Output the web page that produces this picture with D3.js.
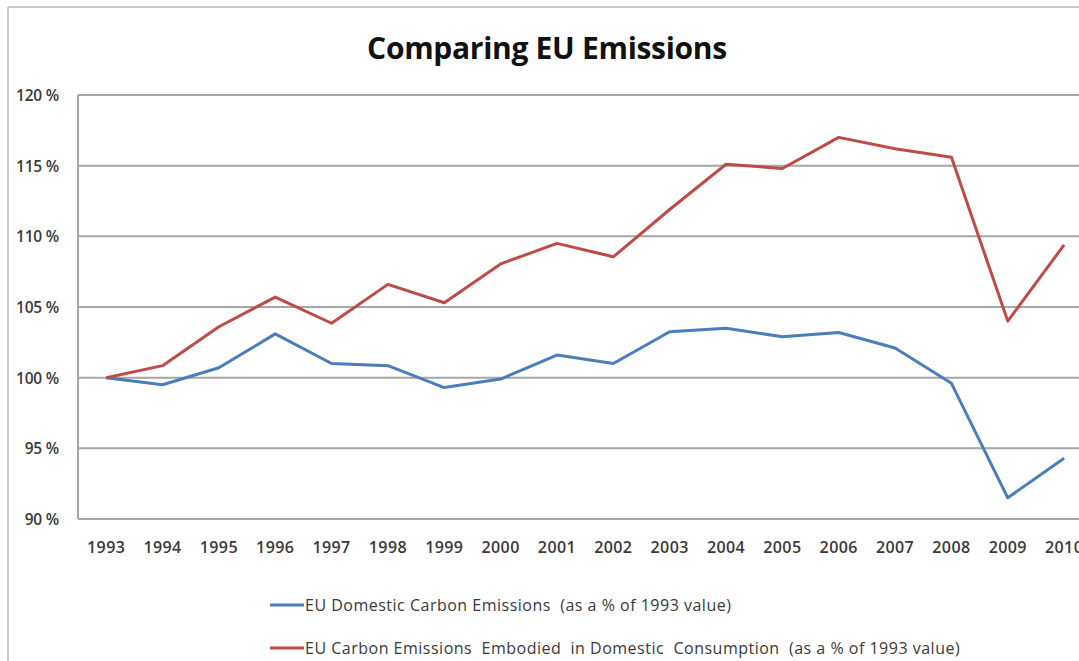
<!DOCTYPE html>
<html>
<head>
<meta charset="utf-8">
<script src="https://cdn.jsdelivr.net/npm/d3@7"></script>
<style>
  body { margin: 0; background: #fff; }
  text { font-family: "Open Sans", Lato, sans-serif; fill: #3a3a3a; }
</style>
</head>
<body>
<script>
// Data
const years = ["1993", "1994", "1995", "1996", "1997", "1998", "1999", "2000", "2001",
    "2002", "2003", "2004", "2005", "2006", "2007", "2008", "2009", "2010"];
const domestic = [100, 99.5, 100.7, 103.1, 101.0, 100.85, 99.3, 99.9, 101.6,
    101.0, 103.25, 103.5, 102.9, 103.2, 102.1, 99.6, 91.5, 94.3];
const embodied = [100, 100.85, 103.6, 105.7, 103.85, 106.6, 105.3, 108.05, 109.5,
    108.55, 111.9, 115.1, 114.8, 117.0, 116.2, 115.6, 104.0, 109.4];
const yTicks = [90, 95, 100, 105, 110, 115, 120];
const seriesNames = ["EU Domestic Carbon Emissions  (as a % of 1993 value)",
    "EU Carbon Emissions  Embodied  in Domestic  Consumption  (as a % of 1993 value)"];
const colors = ["#4a7ebb", "#be4b48"];

const width = 1079, height = 661;
const plotLeft = 78, plotTop = 95, plotBottom = 519;
const step = 56.35;

const svg = d3.select('body').append('svg')
    .attr('width', width)
    .attr('height', height);

// Outer chart border (only top and left edges are visible)
svg.append('line').attr('x1', 8).attr('x2', width).attr('y1', 7).attr('y2', 7)
    .attr('stroke', '#c8c8c8').attr('stroke-width', 2);
svg.append('line').attr('x1', 8).attr('x2', 8).attr('y1', 7).attr('y2', height)
    .attr('stroke', '#c8c8c8').attr('stroke-width', 2);

// Title
svg.append('text')
    .attr('x', 547)
    .attr('y', 59)
    .attr('text-anchor', 'middle')
    .attr('font-size', 30)
    .attr('font-weight', 'bold')
    .attr('letter-spacing', -0.3)
    .style('fill', '#111')
    .text('Comparing EU Emissions');

// Scales
const x = d3.scaleBand()
    .domain(years)
    .range([plotLeft, plotLeft + step * years.length]);

const y = d3.scaleLinear()
    .domain([90, 120])
    .range([plotBottom, plotTop]);

// Gridlines
svg.append('g')
    .selectAll('line')
    .data(yTicks)
    .enter().append('line')
    .attr('x1', plotLeft)
    .attr('x2', width)
    .attr('y1', d => y(d))
    .attr('y2', d => y(d))
    .attr('stroke', '#a6a6a6')
    .attr('stroke-width', 2);

// Left axis line
svg.append('line')
    .attr('x1', plotLeft).attr('x2', plotLeft)
    .attr('y1', plotTop).attr('y2', plotBottom)
    .attr('stroke', '#a6a6a6')
    .attr('stroke-width', 2);

// Y labels
svg.append('g')
    .selectAll('text')
    .data(yTicks)
    .enter().append('text')
    .attr('x', 59)
    .attr('y', d => y(d) + 6)
    .attr('text-anchor', 'end')
    .attr('font-size', 15.5)
    .attr('font-weight', 600)
    .attr('letter-spacing', -0.2)
    .text(d => d + ' %');

// X labels
svg.append('g')
    .selectAll('text')
    .data(years)
    .enter().append('text')
    .attr('x', d => x(d) + x.bandwidth() / 2)
    .attr('y', 553)
    .attr('text-anchor', 'middle')
    .attr('font-size', 16)
    .attr('font-weight', 600)
    .attr('letter-spacing', 0.4)
    .text(d => d);

// Lines
const line = d3.line()
    .x((d, i) => x(years[i]) + x.bandwidth() / 2)
    .y(d => y(d));

[domestic, embodied].forEach((values, i) => {
    svg.append('path')
        .datum(values)
        .attr('d', line)
        .attr('fill', 'none')
        .attr('stroke', colors[i])
        .attr('stroke-width', 3)
        .attr('stroke-linejoin', 'round');
});

// Legend
const legend = svg.append('g')
    .selectAll('g')
    .data(seriesNames)
    .enter().append('g')
    .attr('transform', (d, i) => 'translate(270,' + (605 + i * 43) + ')');

legend.append('line')
    .attr('x1', 0).attr('x2', 34)
    .attr('stroke', (d, i) => colors[i])
    .attr('stroke-width', 3);

legend.append('text')
    .attr('x', 35)
    .attr('y', 5.5)
    .attr('font-size', 16)
    .attr('letter-spacing', 0.5)
    .style('white-space', 'pre')
    .text(d => d);
</script>
</body>
</html>
